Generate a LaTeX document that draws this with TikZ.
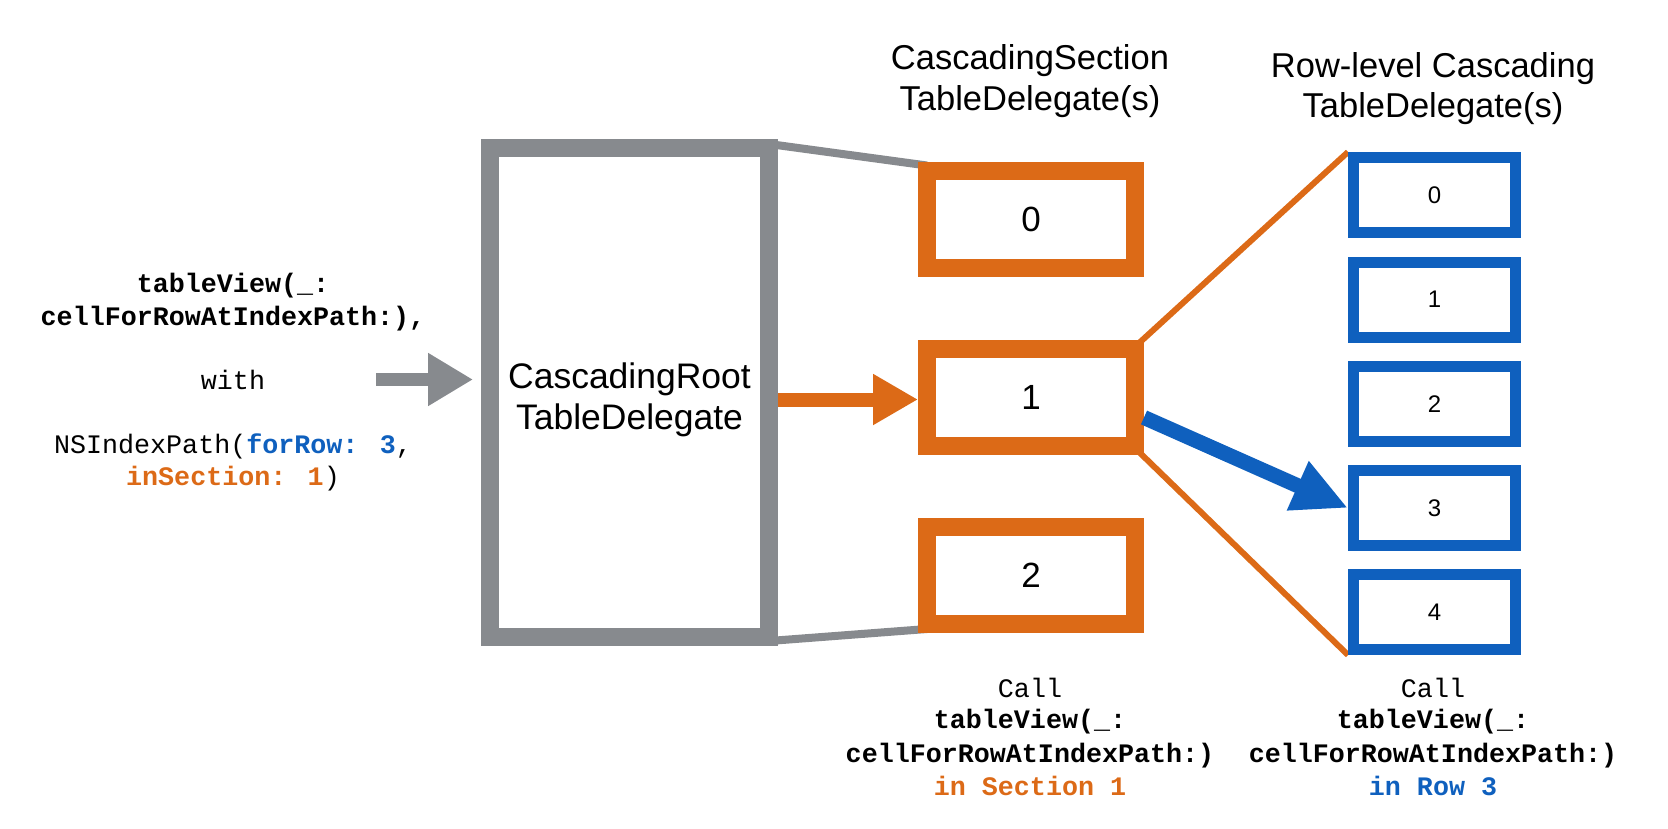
\documentclass[tikz,border=0pt]{standalone}
\usepackage{fontspec}
\setmainfont{Liberation Sans}
\newfontfamily\codefont{Liberation Mono}
\usetikzlibrary{arrows.meta,calc,backgrounds}
\definecolor{dorange}{HTML}{DC6A17}
\definecolor{dblue}{HTML}{0F60BE}
\definecolor{dgray}{HTML}{878A8E}
\begin{document}
\begin{tikzpicture}[x=1pt,y=-1pt,
  rootbox/.style={draw=dgray, line width=18pt, fill=white, minimum width=279pt, minimum height=489pt, inner sep=0pt},
  roottext/.style={align=center, inner sep=0pt, font=\fontsize{35.5}{41}\selectfont},
  secbox/.style={draw=dorange, line width=18pt, fill=white, minimum width=208pt, minimum height=97pt, inner sep=0pt, font=\fontsize{35}{40}\selectfont},
  rowbox/.style={draw=dblue, line width=11pt, fill=white, minimum width=162pt, minimum height=75pt, inner sep=0pt, font=\fontsize{24}{28}\selectfont},
  title/.style={anchor=base, inner sep=0pt, font=\fontsize{34.5}{40}\selectfont},
  code/.style={anchor=base, inner sep=0pt, font=\codefont\fontsize{26.7}{32}\selectfont},
  codeb/.style={anchor=base, inner sep=0pt, font=\codefont\bfseries\fontsize{26.7}{32}\selectfont},
  grayarrow/.style={draw=dgray, line width=13pt, -{Triangle[length=45pt,width=50pt]}},
  orangearrow/.style={draw=dorange, line width=14pt, -{Triangle[length=45pt,width=48pt]}},
  bluearrow/.style={draw=dblue, line width=15pt, -{Triangle[length=55pt,width=50pt]}},
  grayline/.style={draw=dgray, line width=8pt},
  orangeline/.style={draw=dorange, line width=6pt}
]
\useasboundingbox (0,0) rectangle (1668,828);

% boxes
\node[rootbox] (root) at (629.5,392.5) {};
\node[roottext] (rootlabel) at (629.5,400) {CascadingRoot\\TableDelegate};
\node[secbox] (s0) at (1031,219) {0};
\node[secbox] (s1) at (1031,397.5) {1};
\node[secbox] (s2) at (1031,575.5) {2};
\node[rowbox] (r0) at (1434.5,195) {0};
\node[rowbox] (r1) at (1434.5,299.5) {1};
\node[rowbox] (r2) at (1434.5,404) {2};
\node[rowbox] (r3) at (1434.5,508) {3};
\node[rowbox] (r4) at (1434.5,612) {4};

% connectors behind boxes
\begin{pgfonlayer}{background}
\draw[grayline] ([xshift=-9pt,yshift=-5pt]root.north east) -- ([xshift=9pt,yshift=-4pt]s0.north west);
\draw[grayline] ([xshift=-9pt,yshift=5pt]root.south east) -- ([xshift=9pt,yshift=4pt]s2.south west);
\draw[orangeline] ([xshift=-6pt,yshift=-4pt]s1.north east) -- (r0.north west);
\draw[orangeline] ([xshift=-6pt,yshift=4pt]s1.south east) -- (r4.south west);
\end{pgfonlayer}

% arrows
\coordinate (inS) at (376,379.5);
\draw[grayarrow, shorten >=8pt] (inS) -- (inS -| root.west);
\coordinate (oS) at ([yshift=-7pt]root.east);
\draw[orangearrow] (oS) -- (oS -| s1.west);
\draw[bluearrow] ([yshift=-20pt]s1.east) -- (r3.west);

% titles
\node[title] (t1a) at (1030,69) {CascadingSection};
\node[title] (t1b) at (1030,110) {TableDelegate(s)};
\node[title] (t2a) at (1433,77) {Row-level Cascading};
\node[title] (t2b) at (1433,117) {TableDelegate(s)};

% left text
\node[codeb] (l1) at (233,292) {tableView(\_:};
\node[codeb] (l2) at (233,325) {cellForRowAtIndexPath:),};
\node[code] (l3) at (233,389) {with};
\node[code] (l4) at (233,453) {NSIndexPath(\textcolor{dblue}{\bfseries forRow: 3},};
\node[code] (l5) at (233,485) {\textcolor{dorange}{\bfseries inSection: 1})};

% bottom texts
\node[code] (b1a) at (1030,697) {Call};
\node[codeb] (b1b) at (1030,728) {tableView(\_:};
\node[codeb] (b1c) at (1030,762) {cellForRowAtIndexPath:)};
\node[codeb,text=dorange] (b1d) at (1030,795) {in Section 1};
\node[code] (b2a) at (1433,697) {Call};
\node[codeb] (b2b) at (1433,728) {tableView(\_:};
\node[codeb] (b2c) at (1433,762) {cellForRowAtIndexPath:)};
\node[codeb,text=dblue] (b2d) at (1433,795) {in Row 3};
\end{tikzpicture}
\end{document}
